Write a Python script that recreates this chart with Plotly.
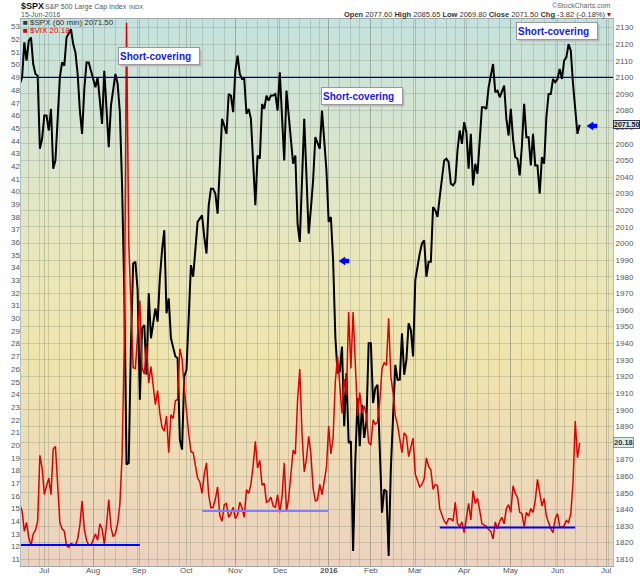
import base64
import pandas as pd
import plotly.graph_objects as go

# market holidays skipped on the trading-time axis
holidays = ["2015-07-03", "2015-09-07", "2015-11-26", "2015-12-25", "2016-01-01",
            "2016-01-18", "2016-02-15", "2016-03-25", "2016-05-30", "2016-07-04"]

# $SPX, one reading per trading day, 16-Jun-2015 .. 15-Jun-2016
spx = [
    2096, 2100, 2121, 2110, 2122, 2124, 2108, 2102, 2101, 2057, 2063,  # Jun
    2077, 2077, 2068, 2081, 2045, 2050, 2077, 2100, 2109, 2107, 2124, 2127, 2129, 2120, 2115, 2102,
    2080, 2066, 2093, 2109, 2109, 2104,  # Jul
    2098, 2094, 2100, 2084, 2072, 2104, 2084, 2058, 2083, 2092, 2102, 2096, 2079, 2035, 1971, 1867,
    1868, 1940, 1988, 1989, 1972,  # Aug
    1906, 1949, 1951, 1921, 1970, 1943, 1952, 1961, 1953, 1979, 1996, 2008, 1958, 1967, 1943, 1938,
    1932, 1931, 1882, 1876, 1920,  # Sep
    1924, 1951, 1987, 1980, 1996, 2013, 2015, 2017, 2004, 1994, 2023, 2033, 2033, 2030, 2018, 2052,
    2075, 2071, 2066, 2090, 2089, 2079,  # Oct
    2104, 2113, 2102, 2099, 2099, 2078, 2081, 2075, 2045, 2023, 2053, 2051, 2084, 2081, 2089, 2086,
    2089, 2089, 2090, 2080,  # Nov
    2103, 2080, 2050, 2092, 2077, 2063, 2048, 2053, 2012, 2001, 2043, 2075, 2041, 2006, 2021, 2038,
    2064, 2061, 2057, 2080, 2063, 2044,  # Dec
    2013, 2016, 1990, 1944, 1922, 1923, 1938, 1890, 1922, 1880, 1881, 1815, 1869, 1907, 1878, 1903,
    1883, 1893, 1940,  # Jan
    1940, 1904, 1913, 1915, 1880, 1838, 1852, 1851, 1812, 1865, 1896, 1927, 1918, 1918, 1946, 1921,
    1930, 1952, 1948, 1932,  # Feb
    1978, 1987, 1994, 2000, 2002, 1980, 1989, 1989, 2022, 2020, 2016, 2028, 2041, 2050, 2051, 2049,
    2036, 2035, 2037, 2056, 2068, 2060,  # Mar
    2073, 2067, 2045, 2066, 2035, 2048, 2042, 2062, 2082, 2082, 2081, 2094, 2100, 2108, 2091, 2092,
    2088, 2091, 2095, 2075, 2065,  # Apr
    2081, 2063, 2052, 2051, 2041, 2059, 2084, 2064, 2064, 2047, 2066, 2047, 2047, 2030, 2052, 2048,
    2076, 2090, 2090, 2099, 2097,  # May
    2099, 2105, 2099, 2110, 2112, 2120, 2116, 2096, 2079, 2066, 2071.5,  # Jun
]

# $VIX, same days
vix = [
    15.3, 14.8, 13.2, 13.9, 12.7, 12.1, 13.0, 13.3, 14.0, 19.2, 18.2,
    16.1, 16.8, 17.4, 16.1, 19.7, 19.9, 16.8, 13.9, 13.4, 13.2, 12.1, 11.95, 12.25, 12.2, 12.1, 12.6,
    13.7, 15.6, 13.4, 12.5, 12.1, 12.1,
    12.6, 13.0, 12.5, 13.8, 13.4, 12.2, 13.7, 15.7, 13.5, 12.8, 13.0, 13.8, 15.3, 19.1, 28.0, 53.3,
    36.0, 30.3, 26.1, 26.05, 28.4,
    31.4, 26.1, 25.6, 27.8, 24.9, 26.2, 24.4, 23.2, 24.3, 22.5, 21.4, 21.1, 22.3, 19.4, 22.4, 22.1,
    23.5, 23.6, 27.6, 26.8, 24.5,
    22.6, 20.9, 19.5, 19.4, 18.4, 17.4, 17.1, 16.2, 17.7, 18.6, 16.05, 15.05, 15.1, 15.75, 16.7, 14.45,
    14.0, 15.3, 15.4, 14.3, 14.6, 15.1,
    14.2, 14.5, 15.5, 15.05, 14.3, 16.5, 16.2, 16.9, 18.4, 20.3, 18.2, 18.8, 16.85, 16.99, 15.5, 15.6,
    15.9, 15.2, 15.1, 16.1,
    14.7, 15.9, 18.6, 14.8, 15.8, 17.6, 19.6, 19.3, 23.5, 26.0, 20.9, 17.9, 18.9, 20.7, 19.3, 16.6,
    15.6, 15.7, 16.9, 16.1, 17.3, 18.2,
    21.5, 19.3, 20.6, 25.0, 27.0, 24.3, 22.5, 25.2, 23.95, 30.5, 26.05, 30.5, 26.7, 22.3, 24.15, 22.5,
    23.1, 22.4, 20.2,
    20.0, 22.0, 21.65, 21.8, 23.4, 26.0, 26.5, 26.3, 30.0, 25.4, 24.1, 22.3, 21.6, 20.5, 19.4, 20.98,
    20.7, 19.1, 19.8, 20.55,
    17.7, 17.1, 16.7, 16.9, 17.35, 19.0, 18.3, 18.05, 16.5, 16.9, 16.8, 14.99, 14.4, 14.0, 13.8, 14.2,
    14.2, 14.0, 15.5, 13.8, 13.6, 13.95,
    13.1, 14.1, 15.4, 14.1, 16.4, 15.4, 15.8, 14.85, 13.8, 13.7, 13.6, 13.35, 13.2, 12.6, 13.95, 13.4,
    14.0, 14.3, 13.8, 15.0, 15.3,
    14.7, 16.8, 16.2, 15.9, 14.7, 14.6, 13.6, 14.7, 14.4, 15.0, 14.7, 15.6, 17.3, 16.3, 15.2, 15.8,
    14.4, 13.9, 13.4, 13.1, 14.2,
    14.6, 13.6, 13.5, 13.65, 14.05, 13.9, 14.6, 17.0, 21.9, 19.0, 20.18,
]

month_ticks = ["2015-07-01", "2015-08-03", "2015-09-01", "2015-10-01", "2015-11-02", "2015-12-01",
               "2016-01-04", "2016-02-01", "2016-03-01", "2016-04-01", "2016-05-02", "2016-06-01",
               "2016-07-01"]
month_labels = ["Jul", "Aug", "Sep", "Oct", "Nov", "Dec", "<b>2016</b>", "Feb", "Mar", "Apr", "May",
                "Jun", "Jul"]

# support lines drawn on the VIX scale
support_start = ["2015-06-16", "2015-10-12", "2016-03-16"]
support_end = ["2015-09-01", "2016-01-04", "2016-06-13"]
support_level = [12.13, 14.8, 13.5]
resistance_spx = 2100

notes = ["Short-covering", "Short-covering", "Short-covering"]

hol = pd.to_datetime(holidays)
days = pd.bdate_range("2015-06-16", "2016-06-15")
days = days[~days.isin(hol)]
n = min(len(days), len(spx), len(vix))
if not (len(days) == len(spx) == len(vix)):
    print("length mismatch", len(days), len(spx), len(vix))
days = days[:n]

cal = pd.bdate_range("2015-06-15", "2016-07-08")
cal = cal[~cal.isin(hol)]
week_starts = [d for i, d in enumerate(cal)
               if i == 0 or d.isocalendar()[1] != cal[i - 1].isocalendar()[1]]

# pixel helpers (plot area 21..613 x 19..566)
L, T, PW, PH = 21, 19, 592, 547


def fx(p):
    return (p - L) / PW


def fy(p):
    return (T + PH - p) / PH


FONT = "Liberation Sans, Arial, sans-serif"

fig = go.Figure()
fig.add_trace(go.Scatter(x=days, y=spx[:n], mode="lines", yaxis="y",
                         line=dict(color="black", width=2), hoverinfo="skip"))
fig.add_trace(go.Scatter(x=days, y=vix[:n], mode="lines", yaxis="y2",
                         line=dict(color="#e00000", width=1.5), hoverinfo="skip"))

svg = ("<svg xmlns='http://www.w3.org/2000/svg' width='592' height='547' viewBox='0 0 592 547' "
       "preserveAspectRatio='none'><defs><linearGradient id='g' x1='0' y1='0' x2='0' y2='1'>"
       "<stop offset='0' stop-color='#c4e2de'/><stop offset='0.22' stop-color='#d8e5cf'/>"
       "<stop offset='0.45' stop-color='#ebe7ba'/><stop offset='0.62' stop-color='#efe4ad'/>"
       "<stop offset='0.8' stop-color='#eedcb6'/><stop offset='1' stop-color='#ecd2c0'/>"
       "</linearGradient></defs><rect width='592' height='547' fill='url(#g)'/></svg>")
bg = "data:image/svg+xml;base64," + base64.b64encode(svg.encode()).decode()

shapes = [dict(type="line", xref="paper", x0=0, x1=1, yref="y", y0=resistance_spx, y1=resistance_spx,
               line=dict(color="#000080", width=1.3))]
for s, e, lv, c in zip(support_start, support_end, support_level, ["#0000ff", "#8080ff", "#0000ff"]):
    shapes.append(dict(type="line", xref="x", x0=s, x1=e, yref="y2", y0=lv, y1=lv,
                       line=dict(color=c, width=2)))


def arrow(tx, ty):
    pts = [(tx, ty), (tx + 6, ty - 4), (tx + 6, ty - 2), (tx + 10, ty - 2), (tx + 10, ty + 2),
           (tx + 6, ty + 2), (tx + 6, ty + 4)]
    return "M " + " L ".join(f"{fx(a):.5f},{fy(b):.5f}" for a, b in pts) + " Z"


for tx, ty in [(339, 261), (587, 126)]:
    shapes.append(dict(type="path", xref="paper", yref="paper", path=arrow(tx, ty),
                       fillcolor="#0000ff", line=dict(color="#0000ff", width=0.5)))

ann = []


def txt(x, y, text, size=8, color="#444", anchor="left", **kw):
    ann.append(dict(xref="paper", yref="paper", x=fx(x), y=fy(y), text=text, showarrow=False,
                    xanchor=anchor, yanchor="middle", font=dict(family=FONT, size=size, color=color),
                    **kw))


txt(19, 5.5, "<b>$SPX</b>", size=9, color="#111")
txt(43, 6.5, "S&P 500 Large Cap Index", size=7, color="#555")
txt(127, 7, "INDX", size=6, color="#555")
txt(19, 15, "15-Jun-2016", size=7, color="#555")
txt(613, 6, "©StockCharts.com", size=7, color="#666", anchor="right")
txt(613, 14.5, "<b>Open</b> 2077.60 <b>High</b> 2085.65 <b>Low</b> 2069.80 <b>Close</b> 2071.50 "
    "<b>Chg</b> -3.82 (-0.18%) <span style='color:#d00'>▾</span>", size=7.5, color="#333",
    anchor="right")
txt(21, 22.5, "■ $SPX (60 min) %.2f" % spx[n - 1], size=8, color="#333")
txt(21, 30.5, "■ $VIX %.2f" % vix[n - 1], size=8, color="#e00000")

# month labels just under the plot frame
for tv, tl in zip(month_ticks, month_labels):
    ann.append(dict(xref="x", yref="paper", x=tv, y=fy(570.5), text=tl, showarrow=False,
                    xanchor="center", yanchor="middle", font=dict(family=FONT, size=8, color="#555")))

for (bx, by), note in zip([(118, 47), (321, 87), (516, 22)], notes):
    ann.append(dict(xref="paper", yref="paper", x=fx(bx + 2), y=fy(by + 2), text=" ", showarrow=False,
                    xanchor="left", yanchor="top", width=78, height=14, bgcolor="#b8b8b8",
                    borderpad=1, font=dict(size=9)))
    ann.append(dict(xref="paper", yref="paper", x=fx(bx), y=fy(by), text="<b>" + note + "</b>",
                    showarrow=False, xanchor="left", yanchor="top", width=78, height=14, align="left",
                    bgcolor="white", bordercolor="#999", borderwidth=1, borderpad=1,
                    font=dict(family=FONT, size=10, color="#1818f0")))

ann.append(dict(xref="paper", yref="y", x=1.0, y=spx[n - 1], text="<b>%.2f</b>" % spx[n - 1],
                showarrow=False, xanchor="left", yanchor="middle", bgcolor="#cce8ee",
                bordercolor="#335", borderwidth=1, borderpad=0,
                font=dict(family=FONT, size=7, color="#111")))
ann.append(dict(xref="paper", yref="y2", x=1.0, y=vix[n - 1], text="<b>%.2f</b>" % vix[n - 1],
                showarrow=False, xanchor="left", yanchor="middle", bgcolor="#d9eeee",
                bordercolor="#e07070", borderwidth=1, borderpad=0,
                font=dict(family=FONT, size=7.5, color="#333")))

tick_font = dict(family=FONT, size=8, color="#555")
grid = "rgba(120,130,110,0.28)"

fig.update_layout(
    width=640, height=576,
    margin=dict(l=L, r=640 - L - PW, t=T, b=576 - T - PH, autoexpand=False),
    paper_bgcolor="white", plot_bgcolor="rgba(0,0,0,0)",
    showlegend=False,
    images=[dict(source=bg, xref="paper", yref="paper", x=0, y=1, sizex=1, sizey=1,
                 sizing="stretch", layer="below", xanchor="left", yanchor="top")],
    shapes=shapes, annotations=ann,
    xaxis=dict(type="date", range=["2015-06-16 12:00", "2016-07-07 00:00"], automargin=False,
               rangebreaks=[dict(bounds=["sat", "mon"]), dict(values=holidays)],
               tickmode="array", tickvals=month_ticks, showticklabels=False,
               ticks="", showgrid=True, gridcolor="rgba(120,130,110,0.4)",
               gridwidth=1, minor=dict(tickvals=week_starts, showgrid=True, gridcolor=grid),
               showline=True, linecolor="#a0a8a8", mirror=True, zeroline=False, fixedrange=True),
    yaxis=dict(side="right", range=[1805.96, 2135.1], tick0=1810, dtick=10, tickfont=tick_font,
               ticks="", showgrid=True, gridcolor=grid, showline=True, linecolor="#a8c0cc",
               mirror=True, zeroline=False, automargin=False),
    yaxis2=dict(overlaying="y", side="left", range=[10.47, 53.6], tick0=11, dtick=1,
                tickfont=tick_font, ticks="", showgrid=False, zeroline=False, showline=False,
                automargin=False),
)

# the page's default body margin would shift the figure by 8px
fig.write_html("out.html", config={"displayModeBar": False},
               post_script="document.body.style.margin='0';")
